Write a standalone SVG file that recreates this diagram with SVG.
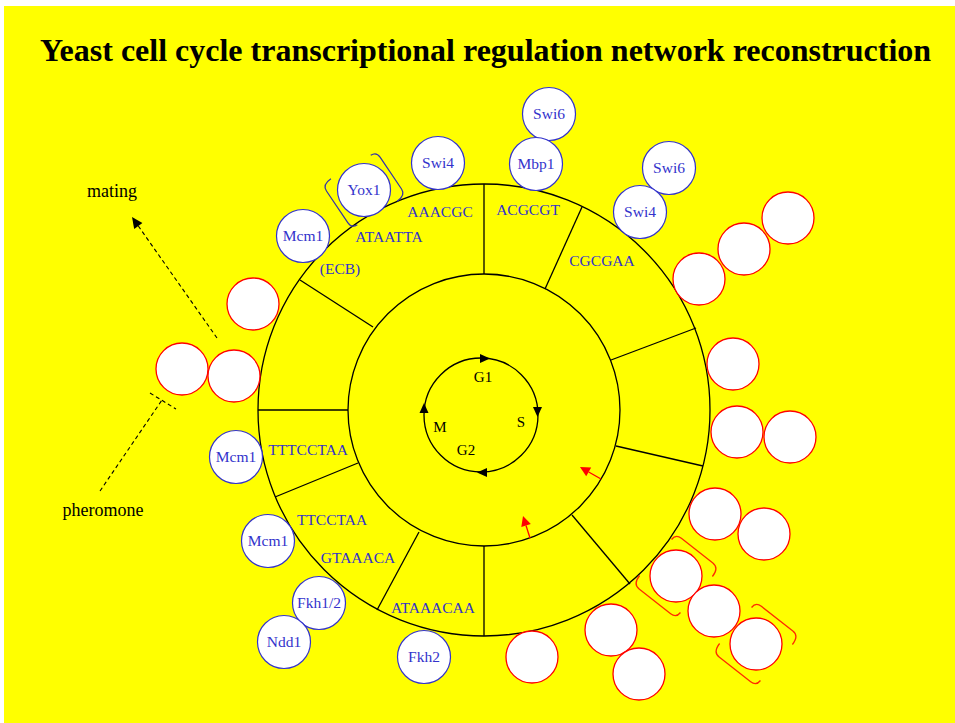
<svg xmlns="http://www.w3.org/2000/svg" xmlns:xlink="http://www.w3.org/1999/xlink" width="955" height="723" viewBox="0 0 955 723">
<style>
  .bg { fill: #ffff00; }
  .ring { fill: none; stroke: #000; stroke-width: 1.3; }
  .div { stroke: #000; stroke-width: 1.3; }
  .tf circle { fill: #fff; stroke: #3333cc; stroke-width: 1.2; }
  .tf text { font-family: "Liberation Serif", "Times New Roman", serif; font-size: 15.5px; fill: #3333cc; text-anchor: middle; }
  .gene circle { fill: #fff; stroke: #ff0000; stroke-width: 1.3; }
  .motif { font-family: "Liberation Serif", "Times New Roman", serif; font-size: 15.5px; fill: #3333cc; text-anchor: middle; }
  .phase { font-family: "Liberation Serif", "Times New Roman", serif; font-size: 15px; fill: #000; text-anchor: middle; }
  .side { font-family: "Liberation Serif", "Times New Roman", serif; font-size: 18px; fill: #000; text-anchor: middle; }
  .title { font-family: "Liberation Serif", "Times New Roman", serif; font-size: 32px; font-weight: bold; fill: #000; }
  .dash { stroke: #000; stroke-width: 1.1; stroke-dasharray: 4 3; fill: none; }
  .redbr { fill: none; stroke: #ff2a00; stroke-width: 1.3; }
  .bluebr { fill: none; stroke: #3333aa; stroke-width: 1.3; }
</style>
<defs>
  <path id="bracket" d="M -26,-26 Q -26,-33 -19,-33 L 21,-33 Q 29,-33 29,-22 M 26,26 Q 26,33 19,33 L -21,33 Q -29,33 -29,22"/>
</defs>
<rect class="bg" x="4" y="6" width="951" height="717"/>
<text class="title" x="40" y="61">Yeast cell cycle transcriptional regulation network reconstruction</text>

<g id="wheel">
  <circle class="ring" cx="484" cy="410" r="226"/>
  <circle class="ring" cx="484" cy="410" r="136"/>
  <line class="div" x1="484" y1="184" x2="484" y2="274"/>
  <line class="div" x1="582" y1="207" x2="545" y2="289"/>
  <line class="div" x1="696" y1="328" x2="611" y2="360"/>
  <line class="div" x1="703" y1="466" x2="616" y2="446"/>
  <line class="div" x1="630" y1="584" x2="572" y2="515"/>
  <line class="div" x1="484" y1="546" x2="484" y2="636"/>
  <line class="div" x1="419" y1="532" x2="377" y2="610"/>
  <line class="div" x1="358" y1="463" x2="275" y2="497"/>
  <line class="div" x1="258" y1="410" x2="348" y2="410"/>
  <line class="div" x1="300" y1="280" x2="373" y2="327"/>
</g>

<g id="motifs">
  <text class="motif" x="440" y="217">AAACGC</text>
  <text class="motif" x="528" y="215">ACGCGT</text>
  <text class="motif" x="389" y="242">ATAATTA</text>
  <text class="motif" x="340" y="274">(ECB)</text>
  <text class="motif" x="602" y="266">CGCGAA</text>
  <text class="motif" x="308" y="455">TTTCCTAA</text>
  <text class="motif" x="332" y="525">TTCCTAA</text>
  <text class="motif" x="358" y="563">GTAAACA</text>
  <text class="motif" x="433" y="613">ATAAACAA</text>
</g>

<g id="cycle">
  <circle class="ring" cx="481" cy="415" r="57"/>
  <polygon points="480,354 490,358.5 480,363" fill="#000"/>
  <polygon points="533,407 542,407 537.5,417" fill="#000"/>
  <polygon points="487,468 477,472.5 487,477" fill="#000"/>
  <polygon points="419.5,413 428.5,413 424,403" fill="#000"/>
  <text class="phase" x="483" y="382">G1</text>
  <text class="phase" x="521" y="427">S</text>
  <text class="phase" x="440" y="432">M</text>
  <text class="phase" x="466" y="455">G2</text>
</g>

<g id="genes" class="gene">
  <g id="gene1"><circle cx="788" cy="218" r="26"/></g>
  <g id="gene2"><circle cx="744" cy="249" r="26"/></g>
  <g id="gene3"><circle cx="699" cy="279" r="26"/></g>
  <g id="gene4"><circle cx="733" cy="364" r="26"/></g>
  <g id="gene5"><circle cx="737" cy="432" r="26"/></g>
  <g id="gene6"><circle cx="790" cy="437" r="26"/></g>
  <g id="gene7"><circle cx="715" cy="514" r="26"/></g>
  <g id="gene8"><circle cx="764" cy="534" r="26"/></g>
  <g id="gene9"><circle cx="676" cy="576" r="26"/><use href="#bracket" class="redbr" transform="translate(676,576) rotate(38)"/></g>
  <g id="gene10"><circle cx="714" cy="611" r="26"/></g>
  <g id="gene11"><circle cx="756" cy="644" r="26"/><use href="#bracket" class="redbr" transform="translate(756,644) rotate(38)"/></g>
  <g id="gene12"><circle cx="611" cy="630" r="26"/></g>
  <g id="gene13"><circle cx="639" cy="674" r="26"/></g>
  <g id="gene14"><circle cx="532" cy="657" r="26"/></g>
  <g id="gene15"><circle cx="253" cy="304" r="26"/></g>
  <g id="gene16"><circle cx="182" cy="369" r="26"/></g>
  <g id="gene17"><circle cx="234" cy="376" r="26"/></g>
</g>

<g id="tfs" class="tf">
  <g id="swi6a"><circle cx="549" cy="114" r="26.5"/><text x="549" y="119">Swi6</text></g>
  <g id="mbp1"><circle cx="536" cy="164" r="26.5"/><text x="536" y="169">Mbp1</text></g>
  <g id="swi4a"><circle cx="438" cy="163" r="26.5"/><text x="438" y="168">Swi4</text></g>
  <g id="yox1"><circle cx="364" cy="190" r="26.5"/><text x="364" y="195">Yox1</text><use href="#bracket" class="bluebr" transform="translate(364,190) rotate(56) scale(0.96)"/></g>
  <g id="mcm1a"><circle cx="303" cy="236" r="26.5"/><text x="303" y="241">Mcm1</text></g>
  <g id="swi6b"><circle cx="669" cy="168" r="26.5"/><text x="669" y="173">Swi6</text></g>
  <g id="swi4b"><circle cx="640" cy="212" r="26.5"/><text x="640" y="217">Swi4</text></g>
  <g id="mcm1b"><circle cx="236" cy="457" r="26.5"/><text x="236" y="462">Mcm1</text></g>
  <g id="mcm1c"><circle cx="268" cy="541" r="26.5"/><text x="268" y="546">Mcm1</text></g>
  <g id="fkh12"><circle cx="319" cy="603" r="26.5"/><text x="319" y="608">Fkh1/2</text></g>
  <g id="ndd1"><circle cx="284" cy="642" r="26.5"/><text x="284" y="647">Ndd1</text></g>
  <g id="fkh2"><circle cx="424" cy="657" r="26.5"/><text x="424" y="662">Fkh2</text></g>
</g>

<g id="labels">
  <text class="side" x="112" y="197">mating</text>
  <text class="side" x="103" y="516">pheromone</text>
</g>

<g id="connectors">
  <line class="dash" x1="217" y1="338" x2="138.3" y2="226"/>
  <polygon points="132,217 142.4,223.1 134.2,228.9" fill="#000"/>
  <line class="dash" x1="100" y1="491" x2="162" y2="400"/>
  <line class="dash" x1="150" y1="393" x2="176" y2="409"/>
  <line x1="601" y1="479" x2="588.7" y2="472" stroke="#ff0000" stroke-width="1.3"/>
  <polygon points="580,467 591.2,467.6 586.2,476.3" fill="#ff0000"/>
  <line x1="530" y1="538" x2="526" y2="525.5" stroke="#ff0000" stroke-width="1.3"/>
  <polygon points="523,516 530.8,524 521.3,527" fill="#ff0000"/>
</g>
</svg>
